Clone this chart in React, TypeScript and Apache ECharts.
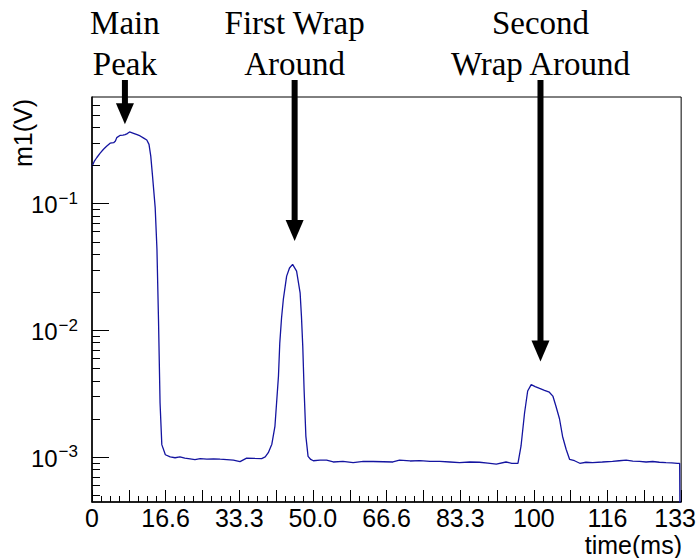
import React, { useEffect, useRef } from "react";
import * as echarts from "echarts";

// ---- data ----
const timeMs = [
  0, 0.5, 1.1, 1.8, 2.6, 3.3, 4.1, 4.9, 5.3, 5.6,
  6.4, 7.0, 7.5, 8.0, 8.5, 9.4, 10.2, 10.9, 11.7, 12.4,
  12.9, 13.3, 13.7, 14.1, 14.3, 14.7, 15.05, 15.4, 15.8, 16.6,
  17.7, 18.8, 19.9, 21.0, 22.2, 23.3, 24.5, 26.0, 27.5, 29.0,
  30.5, 32.0, 33.5, 35.0, 36.7, 38.4, 39.2, 39.9, 40.7, 41.4,
  41.8, 42.2, 42.5, 42.9, 43.3, 44.05, 44.7, 45.4, 46.3, 47.1,
  47.4, 47.7, 48.0, 48.4, 48.9, 49.5, 50.1, 51.6, 53.1, 54.6,
  56.8, 59.1, 61.4, 63.6, 65.9, 68.1, 69.6, 72.0, 74.2, 76.5,
  78.7, 81.0, 83.2, 85.5, 87.7, 89.6, 91.5, 93.7, 95.0, 96.4,
  97.1, 97.9, 98.6, 99.4, 100.3, 101.3, 102.4, 103.5, 104.3, 105.0,
  105.8, 106.5, 107.3, 108.1, 109.2, 110.4, 111.8, 113.3, 115.5, 117.8,
  119.3, 120.9, 122.4, 123.9, 125.4, 126.9, 128.4, 129.9, 131.2, 132.5,
  133.0, 133.15,
];
const m1V = [
  0.195, 0.214, 0.23, 0.248, 0.267, 0.282, 0.298, 0.301, 0.31, 0.33,
  0.344, 0.345, 0.348, 0.355, 0.366, 0.357, 0.348, 0.34, 0.327, 0.316,
  0.292, 0.236, 0.164, 0.112, 0.0925, 0.0434, 0.0121, 0.00267, 0.00125, 0.00104,
  0.001, 0.000985, 0.001, 0.000977, 0.000966, 0.000953, 0.000971, 0.000962, 0.000966, 0.000959,
  0.000953, 0.000944, 0.000918, 0.000977, 0.000973, 0.000971, 0.001, 0.00108, 0.00126, 0.00174,
  0.00275, 0.00434, 0.00794, 0.01253, 0.01746, 0.02667, 0.0309, 0.033, 0.0292, 0.0197,
  0.0129, 0.00748, 0.0034, 0.00146, 0.00101, 0.000955, 0.000933, 0.000942, 0.000942, 0.000912,
  0.000923, 0.000902, 0.000923, 0.00092, 0.000916, 0.000912, 0.000942, 0.000929, 0.000935, 0.000923,
  0.000923, 0.000912, 0.000902, 0.000912, 0.000908, 0.000895, 0.000879, 0.000912, 0.000891, 0.000891,
  0.00122, 0.00223, 0.00331, 0.00372, 0.00359, 0.00347, 0.00335, 0.00324, 0.00302, 0.00251,
  0.002, 0.00145, 0.00115, 0.000955, 0.000933, 0.000891, 0.000908, 0.000902, 0.000912, 0.000923,
  0.000933, 0.000942, 0.000927, 0.000923, 0.000912, 0.00092, 0.000908, 0.000902, 0.000899, 0.000891,
  0.00089, 0.0001,
];

const xTickLabels = ["0", "16.6", "33.3", "50.0", "66.6", "83.3", "100", "116", "133"];
const yDecades = [1e-3, 1e-2, 1e-1];
const yMinorTicks = [
  5e-4, 6e-4, 7e-4, 8e-4, 9e-4,
  2e-3, 3e-3, 4e-3, 5e-3, 6e-3, 7e-3, 8e-3, 9e-3,
  2e-2, 3e-2, 4e-2, 5e-2, 6e-2, 7e-2, 8e-2, 9e-2,
  2e-1, 3e-1, 4e-1, 5e-1, 6e-1,
];

const arrowTimes = [7.45, 45.86, 101.5];
const arrowTips = [0.42, 0.0504, 0.00566];
const noteLine1 = ["Main", "First Wrap", "Second"];
const noteLine2 = ["Peak", "Around", "Wrap Around"];

const X_MIN = 0;
const X_MAX = 400 / 3;
const X_STEP = 25 / 3;
const Y_MIN = 4.41e-4;
const Y_MAX = 0.69;

const SANS = "'Liberation Sans', Arial, Helvetica, sans-serif";
const SERIF = "'Liberation Serif', 'Times New Roman', serif";

export default function App() {
  const ref = useRef<HTMLDivElement>(null);

  useEffect(() => {
    if (!ref.current) return;
    const chart = echarts.init(ref.current, undefined, { renderer: "svg" });

    const yTickData = [
      ...yDecades.map((v) => [X_MAX / 2, v, 17]),
      ...yMinorTicks.map((v) => [X_MAX / 2, v, 8]),
    ];

    const option: any = {
      animation: false,
      grid: {
        left: 92,
        top: 97,
        width: 590,
        height: 405,
        show: true,
        borderColor: "#000",
      },
      xAxis: {
        type: "value",
        min: X_MIN,
        max: X_MAX,
        interval: X_STEP,
        axisLine: { show: true, lineStyle: { color: "#000", width: 1.5 } },
        axisTick: { show: true, inside: true, length: 12, lineStyle: { color: "#000", width: 1 } },
        minorTick: { show: true, splitNumber: 4, length: 6, lineStyle: { color: "#000", width: 1 } },
        splitLine: { show: false },
        minorSplitLine: { show: false },
        axisLabel: {
          margin: 3,
          fontSize: 25,
          color: "#000",
          fontFamily: SANS,
          showMinLabel: true,
          showMaxLabel: true,
          formatter: (v: number) => {
            const k = Math.round(v / X_STEP);
            if (k % 2 !== 0) return "";
            const s = xTickLabels[k / 2] ?? "";
            return k / 2 === xTickLabels.length - 1 ? "{last|" + s + "}" : s;
          },
          rich: {
            last: { fontSize: 25, fontFamily: SANS, color: "#000", padding: [0, 12, 0, 0] },
          },
        },
      },
      yAxis: {
        type: "log",
        logBase: 10,
        min: Y_MIN,
        max: Y_MAX,
        position: "left",
        axisLine: { show: true, lineStyle: { color: "#000", width: 1.5 } },
        axisTick: { show: false },
        splitLine: { show: false },
        axisLabel: {
          customValues: yDecades,
          margin: 14,
          color: "#000",
          formatter: (v: number) => {
            const e = Math.round(Math.log10(v));
            return "{b|10}{s|\u2212" + String(-e) + "}";
          },
          rich: {
            b: { fontSize: 24, fontFamily: SANS, color: "#000", verticalAlign: "bottom" },
            s: { fontSize: 17, fontFamily: SANS, color: "#000", verticalAlign: "bottom", padding: [0, 0, 10, 1] },
          },
        },
      },
      series: [
        {
          type: "line",
          name: "m1",
          data: timeMs.map((t, i) => [t, m1V[i]]),
          showSymbol: false,
          symbol: "none",
          clip: true,
          lineStyle: { color: "#1414a0", width: 1.3 },
          silent: true,
          z: 3,
        },
        {
          type: "custom",
          name: "yTicks",
          coordinateSystem: "cartesian2d",
          silent: true,
          clip: false,
          z: 10,
          data: yTickData,
          renderItem: (params: any, api: any) => {
            const p = api.coord([api.value(0), api.value(1)]);
            const left = api.coord([X_MIN, api.value(1)])[0];
            const len = api.value(2);
            const y = Math.round(p[1]);
            return {
              type: "rect",
              shape: { x: left, y: y, width: len, height: 1 },
              style: { fill: "#000" },
            };
          },
        },
        {
          type: "custom",
          name: "annotations",
          coordinateSystem: "cartesian2d",
          silent: true,
          clip: false,
          z: 10,
          data: arrowTimes.map((t, i) => [t, arrowTips[i]]),
          renderItem: (params: any, api: any) => {
            const i = params.dataIndex;
            const p = api.coord([api.value(0), api.value(1)]);
            const x = p[0];
            const tipY = p[1];
            const headH = 21;
            const headHalf = 9;
            const shaftHalf = 3;
            const topY = 80;
            return {
              type: "group",
              children: [
                {
                  type: "text",
                  style: {
                    text: noteLine1[i],
                    x,
                    y: 23,
                    align: "center",
                    verticalAlign: "middle",
                    fontSize: 33,
                    fontFamily: SERIF,
                    fill: "#000",
                  },
                },
                {
                  type: "text",
                  style: {
                    text: noteLine2[i],
                    x,
                    y: 64,
                    align: "center",
                    verticalAlign: "middle",
                    fontSize: 33,
                    fontFamily: SERIF,
                    fill: "#000",
                  },
                },
                {
                  type: "rect",
                  shape: { x: x - shaftHalf, y: topY, width: shaftHalf * 2, height: tipY - headH - topY + 1 },
                  style: { fill: "#000" },
                },
                {
                  type: "polygon",
                  shape: {
                    points: [
                      [x - headHalf, tipY - headH],
                      [x + headHalf, tipY - headH],
                      [x, tipY],
                    ],
                  },
                  style: { fill: "#000" },
                },
              ],
            };
          },
        },
      ],
    };

    chart.setOption(option);

    const x0 = chart.convertToPixel({ xAxisIndex: 0 }, X_MIN) as number;
    const tickEls: any[] = [];
    const addTick = (v: number, len: number) => {
      const py = chart.convertToPixel({ yAxisIndex: 0 }, v) as number;
      if (!isFinite(py)) return;
      const y = Math.round(py) + 0.5;
      tickEls.push({
        type: "line",
        silent: true,
        z: 50,
        shape: { x1: x0, y1: y, x2: x0 + len, y2: y },
        style: { stroke: "#000", lineWidth: 1 },
      });
    };
    yDecades.forEach((v) => addTick(v, 17));
    yMinorTicks.forEach((v) => addTick(v, 8));

    chart.setOption({
      graphic: [
        ...tickEls,
        {
          type: "text",
          x: 23,
          y: 133,
          rotation: Math.PI / 2,
          style: {
            text: "m1(V)",
            fontSize: 25,
            fontFamily: SANS,
            fill: "#000",
            align: "center",
            verticalAlign: "middle",
          },
        },
        {
          type: "text",
          x: 682,
          y: 545,
          style: {
            text: "time(ms)",
            fontSize: 25,
            fontFamily: SANS,
            fill: "#000",
            align: "right",
            verticalAlign: "middle",
          },
        },
      ],
    });

    return () => chart.dispose();
  }, []);

  return (
    <div
      ref={ref}
      style={{ position: "absolute", left: 0, top: 0, width: 699, height: 558, background: "#fff" }}
    />
  );
}
